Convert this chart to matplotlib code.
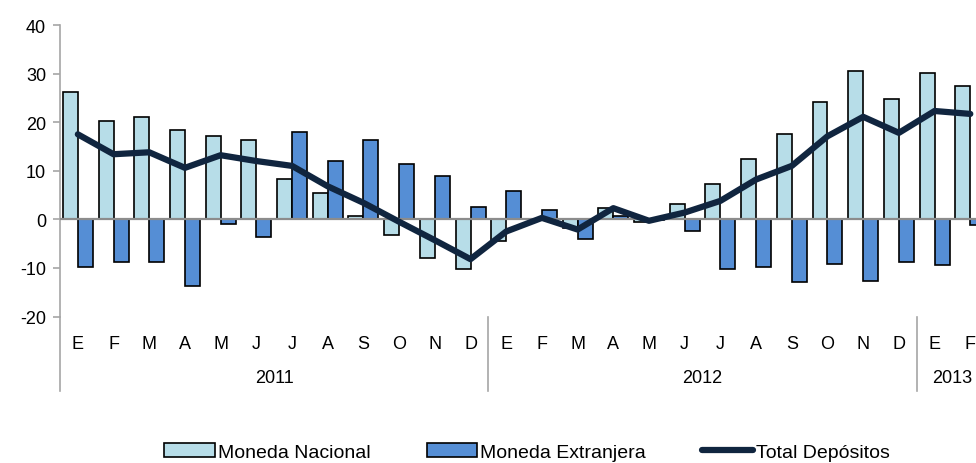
import matplotlib
matplotlib.use("Agg")
import matplotlib.pyplot as plt
import matplotlib.transforms as mtransforms
import numpy as np

plt.rcParams['font.family'] = ['Liberation Sans', 'DejaVu Sans']
plt.rcParams['axes.unicode_minus'] = False

# Meses ene-2011 a feb-2013
months = ['E', 'F', 'M', 'A', 'M', 'J', 'J', 'A', 'S', 'O', 'N', 'D',
          'E', 'F', 'M', 'A', 'M', 'J', 'J', 'A', 'S', 'O', 'N', 'D',
          'E', 'F']
years = ['2011', '2012', '2013']
year_centers = [5.5, 17.5, 24.5]
year_breaks = [11.5, 23.5]

# Tasas de variacion (%)
nacional = [26.2, 20.2, 21.0, 18.3, 17.1, 16.4, 8.4, 5.5, 0.7, -3.3, -8.0, -10.3,
            -4.5, 0.1, -1.7, 2.3, -0.5, 3.1, 7.3, 12.4, 17.6, 24.2, 30.5, 24.7,
            30.1, 27.4]
extranjera = [-9.9, -8.8, -8.8, -13.8, -0.9, -3.6, 18.0, 12.1, 16.4, 11.3, 9.0, 2.6,
              5.8, 1.9, -4.0, 0.6, -0.1, -2.4, -10.3, -9.8, -13.0, -9.1, -12.7, -8.8,
              -9.5, -1.2]
total = [17.5, 13.4, 13.8, 10.6, 13.2, 12.0, 11.0, 6.8, 3.4, -0.5, -4.3, -8.2,
         -2.5, 0.3, -2.1, 2.3, -0.3, 1.4, 3.8, 8.2, 11.0, 17.1, 21.1, 17.8,
         22.3, 21.7]

x = np.arange(len(months))
w = 0.42

fig = plt.figure(figsize=(9.76, 4.64), dpi=100)
ax = fig.add_axes([60 / 976, 1 - 317.5 / 464, 1 - 60 / 976, (317.5 - 26) / 464])

b1 = ax.bar(x - w / 2, nacional, w, color='#b7dde8', edgecolor='black', linewidth=1.2,
            label='Moneda Nacional', zorder=2)
b2 = ax.bar(x + w / 2, extranjera, w, color='#558ed5', edgecolor='black', linewidth=1.2,
            label='Moneda Extranjera', zorder=2)
ax.axhline(0, color='#8c8c8c', linewidth=1.6, zorder=3)
ln, = ax.plot(x, total, color='#10253f', linewidth=4.5, solid_capstyle='round',
              label='Total Depósitos', zorder=4)

ax.set_ylim(-20, 40)
ax.set_xlim(-0.5, 25.16)
ax.set_yticks(range(-20, 41, 10))
ax.set_xticks(x)
ax.set_xticklabels(months)

for s in ['top', 'right', 'bottom']:
    ax.spines[s].set_visible(False)
ax.spines['left'].set_color('#a6a6a6')
ax.spines['left'].set_linewidth(1.2)
ax.spines['left'].set_bounds(-20, 40)
ax.tick_params(axis='y', direction='out', length=5, color='#a6a6a6', width=1.2,
               labelsize=13, pad=5)
ax.tick_params(axis='x', length=0, labelsize=13, pad=13)

# linea de eje prolongada y separadores de anio
trans = mtransforms.blended_transform_factory(ax.transData, ax.transAxes)
low = -(392 - 317.5) / (317.5 - 26)
ax.plot([-0.5, -0.5], [0, low], transform=trans, color='#a6a6a6', linewidth=1.2,
        clip_on=False)
for b in year_breaks:
    ax.plot([b, b], [0, low], transform=trans, color='#a6a6a6', linewidth=1.2,
            clip_on=False)
for yr, c in zip(years, year_centers):
    ax.text(c, -(379 - 317.5) / (317.5 - 26), yr, transform=trans, ha='center',
            va='center', fontsize=13)

fig.legend([b1, b2, ln], ['Moneda Nacional', 'Moneda Extranjera', 'Total Depósitos'],
           loc='center', bbox_to_anchor=(0.54, 1 - 453 / 464), ncol=3, frameon=False,
           fontsize=14, handlelength=2.6, handleheight=0.75, handletextpad=0.15,
           columnspacing=2.9)

fig.savefig('out.png', dpi=100)
